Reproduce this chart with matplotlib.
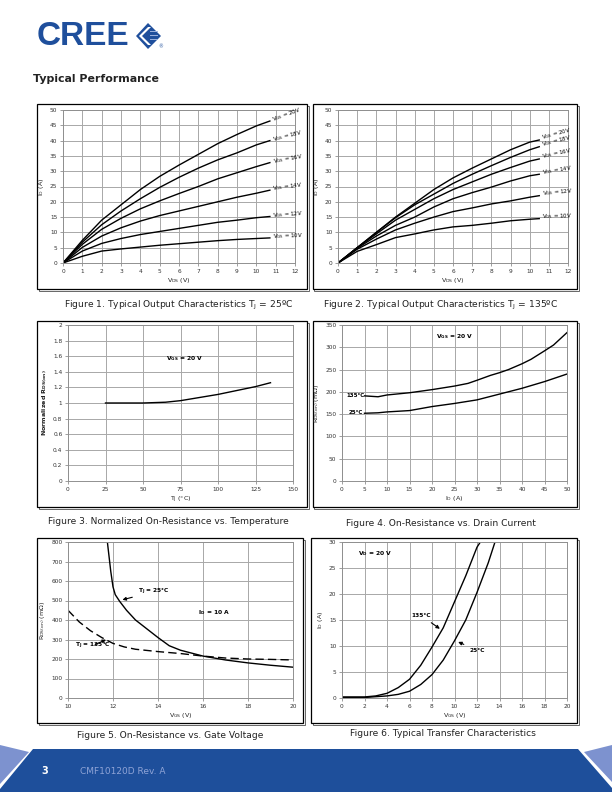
import matplotlib
matplotlib.use('Agg')
import matplotlib.pyplot as plt
from matplotlib.patches import Rectangle, Polygon
from matplotlib.lines import Line2D

# ---------------- data ----------------
# Figure 1: output characteristics, Tj = 25 C
f1_vds = [0, 1, 2, 3, 4, 5, 6, 7, 8, 9, 10, 10.7]
f1_20 = [0, 7.4, 14, 19, 24, 28.3, 32, 35.5, 39, 42, 44.8, 46.4]
f1_18 = [0, 6.8, 12.5, 17, 21, 24.7, 28, 31, 33.7, 36, 38.6, 40]
f1_16 = [0, 6.1, 11, 14.6, 17.7, 20.3, 22.7, 25, 27.5, 29.5, 31.5, 32.8]
f1_14 = [0, 5.1, 8.8, 11.5, 13.7, 15.5, 17, 18.5, 20, 21.5, 22.8, 23.8]
f1_12 = [0, 3.9, 6.4, 8, 9.3, 10.3, 11.3, 12.3, 13.3, 14, 14.8, 15.2]
f1_10 = [0, 2.2, 3.9, 4.6, 5.2, 5.8, 6.3, 6.8, 7.3, 7.7, 8.0, 8.2]
f1_series = [f1_20, f1_18, f1_16, f1_14, f1_12, f1_10]
f1_labels = ['20V', '18V', '16V', '14V', '12V', '10V']
f1_rot = [20, 14, 10, 7, 4, 2]

# Figure 2: output characteristics, Tj = 135 C
f2_vds = [0, 1, 2, 3, 4, 5, 6, 7, 8, 9, 10, 10.5]
f2_20 = [0, 5, 10, 15, 19.5, 24, 27.8, 31, 34, 37, 39.5, 40.2]
f2_18 = [0, 5, 10, 14.8, 19, 22.5, 26, 29, 31.8, 34.5, 37, 38]
f2_16 = [0, 5, 9.5, 14, 17.5, 21, 24, 26.5, 29, 31.2, 33.3, 34]
f2_14 = [0, 4.8, 8.8, 12.3, 15, 18.3, 21, 23, 24.8, 26.8, 28.5, 29]
f2_12 = [0, 4.5, 7.8, 10.8, 13, 15, 16.8, 18, 19.3, 20.3, 21.5, 22]
f2_10 = [0, 3.8, 6, 8.3, 9.5, 10.8, 11.8, 12.3, 13, 13.8, 14.3, 14.5]
f2_series = [f2_20, f2_18, f2_16, f2_14, f2_12, f2_10]
f2_rot = [15, 14, 12, 9, 5, 1]

# Figure 3: normalized on-resistance vs temperature
f3_t = [25, 50, 65, 75, 100, 125, 135]
f3_r = [1.0, 1.0, 1.01, 1.03, 1.11, 1.21, 1.26]

# Figure 4: on-resistance vs drain current
f4_id25 = [5, 8, 10, 15, 20, 25, 30, 35, 40, 45, 50]
f4_r25 = [152, 153, 155, 158, 167, 174, 182, 195, 208, 223, 240]
f4_id135 = [5, 8, 10, 15, 20, 25, 28, 30, 33, 35, 37, 40, 42, 45, 47, 50]
f4_r135 = [191, 189, 193, 198, 205, 213, 219, 226, 237, 243, 250, 263, 273, 292, 305, 333]

# Figure 5: on-resistance vs gate voltage
f5_vgs25 = [11.75, 11.9, 12.0, 12.1, 12.3, 12.6, 13, 13.5, 14, 14.5, 15, 16, 17, 18, 19, 20]
f5_r25 = [800, 650, 570, 530, 495, 450, 400, 355, 310, 268, 245, 215, 195, 180, 168, 158]
f5_vgs135 = [10, 10.5, 11, 11.5, 12, 12.5, 13, 14, 15, 16, 17, 18, 19, 20]
f5_r135 = [450, 390, 345, 310, 280, 262, 250, 238, 228, 215, 205, 200, 198, 195]

# Figure 6: transfer characteristics
f6_v135 = [0, 2, 3, 4, 5, 6, 7, 8, 9, 10, 11, 12, 12.3]
f6_i135 = [0.2, 0.2, 0.4, 0.9, 2.0, 3.6, 6.3, 9.8, 13.5, 18.5, 23.5, 29, 30]
f6_v25 = [0, 2, 4, 5, 6, 7, 8, 9, 10, 11, 12, 13, 13.6]
f6_i25 = [0.1, 0.1, 0.4, 0.7, 1.3, 2.6, 4.5, 7.3, 11, 15, 20.3, 26, 30]

captions = [
    'Figure 1. Typical Output Characteristics T$_\\mathregular{J}$ = 25ºC',
    'Figure 2. Typical Output Characteristics T$_\\mathregular{J}$ = 135ºC',
    'Figure 3. Normalized On-Resistance vs. Temperature',
    'Figure 4. On-Resistance vs. Drain Current',
    'Figure 5. On-Resistance vs. Gate Voltage',
    'Figure 6. Typical Transfer Characteristics',
]

# ---------------- figure ----------------
W, H = 612, 792
fig = plt.figure(figsize=(6.12, 7.92), dpi=100)
fig.patch.set_facecolor('white')

def ax_at(l, r, t, b):
    return fig.add_axes([l / W, 1 - b / H, (r - l) / W, (b - t) / H])

def frame(l, r, t, b):
    # thin shadow on right/bottom, then the black frame
    fig.patches.append(Rectangle(((l + 1.5) / W, 1 - (b + 1.5) / H), (r - l) / W, (b - t) / H,
                                 transform=fig.transFigure, fill=False,
                                 ec='#666666', lw=0.7, zorder=-2))
    fig.patches.append(Rectangle((l / W, 1 - b / H), (r - l) / W, (b - t) / H,
                                 transform=fig.transFigure, fc='white',
                                 ec='black', lw=0.9, zorder=-1))

def ftext(x, y, s, **kw):
    fig.text(x / W, 1 - y / H, s, **kw)

def fpoly(pts, **kw):
    fig.patches.append(Polygon([(x / W, 1 - y / H) for x, y in pts],
                               closed=True, transform=fig.transFigure, **kw))

TF = 4.2
LBL = dict(fontsize=4.6, color='#222222')

def style(ax, xlim, ylim, xt, yt):
    ax.set_xlim(xlim)
    ax.set_ylim(ylim)
    ax.set_xticks(xt)
    ax.set_yticks(yt)
    ax.grid(True, color='#a8a8a8', lw=0.7)
    ax.set_axisbelow(True)
    ax.tick_params(labelsize=TF, length=2, width=0.5, color='#777777',
                   labelcolor='#333333', pad=2)
    for s in ax.spines.values():
        s.set_color('#909090')
        s.set_linewidth(0.7)
    ax.xaxis.set_major_formatter(matplotlib.ticker.FormatStrFormatter('%g'))
    ax.yaxis.set_major_formatter(matplotlib.ticker.FormatStrFormatter('%g'))

# frames
frame(37, 307, 104, 289)
frame(313, 577, 104, 289)
frame(37, 307, 321, 507)
frame(313, 577, 321, 507)
frame(37, 303, 538, 723)
frame(311, 577, 538, 723)

# ---- Figure 1
ax1 = ax_at(63, 295, 110, 263)
style(ax1, (0, 12), (0, 50), range(0, 13), range(0, 51, 5))
for ys, lab, rot in zip(f1_series, f1_labels, f1_rot):
    ax1.plot(f1_vds, ys, color='black', lw=1.0)
    ax1.text(10.85, ys[-1] + 0.4, 'V$_\\mathregular{GS}$ = ' + lab, fontsize=4,
             rotation=rot, rotation_mode='anchor', ha='left', va='center')
ax1.set_xlabel('V$_\\mathregular{DS}$ (V)', labelpad=2, **LBL)
ax1.set_ylabel('I$_\\mathregular{D}$ (A)', labelpad=3, **LBL)

# ---- Figure 2
ax2 = ax_at(338, 568, 110, 263)
style(ax2, (0, 12), (0, 50), range(0, 13), range(0, 51, 5))
for ys, lab, rot in zip(f2_series, f1_labels, f2_rot):
    ax2.plot(f2_vds, ys, color='black', lw=1.0)
    ax2.text(10.65, ys[-1] + 0.6, 'V$_\\mathregular{GS}$ = ' + lab, fontsize=4,
             rotation=rot, rotation_mode='anchor', ha='left', va='center')
ax2.set_xlabel('V$_\\mathregular{DS}$ (V)', labelpad=2, **LBL)
ax2.set_ylabel('I$_\\mathregular{D}$ (A)', labelpad=3, **LBL)

# ---- Figure 3
ax3 = ax_at(68, 293, 325, 481)
style(ax3, (0, 150), (0, 2), range(0, 151, 25), [i * 0.2 for i in range(11)])
ax3.plot(f3_t, f3_r, color='black', lw=1.0)
ax3.text(65, 1.55, 'V$_\\mathregular{GS}$ = 20 V', fontsize=4.3, fontweight='bold')
ax3.set_xlabel('T$_\\mathregular{J}$ (°C)', labelpad=2, **LBL)
ax3.set_ylabel('Normalized R$_\\mathregular{DS(on)}$', labelpad=3, fontweight='bold',
               fontsize=4.6, color='#222222')

# ---- Figure 4
ax4 = ax_at(342, 567, 325, 481)
style(ax4, (0, 50), (0, 350), range(0, 51, 5), range(0, 351, 50))
ax4.plot(f4_id135, f4_r135, color='black', lw=1.0)
ax4.plot(f4_id25, f4_r25, color='black', lw=1.0)
ax4.text(1.0, 192, '135°C', fontsize=4, fontweight='bold', va='center')
ax4.text(1.5, 154, '25°C', fontsize=4, fontweight='bold', va='center')
ax4.text(21, 320, 'V$_\\mathregular{GS}$ = 20 V', fontsize=4.3, fontweight='bold')
ax4.set_xlabel('I$_\\mathregular{D}$ (A)', labelpad=2, **LBL)
ax4.set_ylabel('R$_\\mathregular{DS(on)}$ (mΩ)', labelpad=3, **LBL)

# ---- Figure 5
ax5 = ax_at(68, 293, 542, 698)
style(ax5, (10, 20), (0, 800), range(10, 21, 2), range(0, 801, 100))
ax5.plot(f5_vgs25, f5_r25, color='black', lw=1.0)
ax5.plot(f5_vgs135, f5_r135, color='black', lw=1.0, ls=(0, (6, 3)))
arw = dict(arrowstyle='-|>', color='black', lw=0.8, mutation_scale=5)
ax5.annotate('T$_\\mathregular{J}$ = 25°C', xy=(12.3, 500), xytext=(13.1, 545),
             fontsize=4.2, fontweight='bold', arrowprops=arw, va='center')
ax5.annotate('T$_\\mathregular{J}$ = 135°C', xy=(11.8, 305), xytext=(10.3, 268),
             fontsize=4.2, fontweight='bold', arrowprops=arw, va='center')
ax5.text(15.8, 440, 'I$_\\mathregular{D}$ = 10 A', fontsize=4.3, fontweight='bold',
         va='center')
ax5.set_xlabel('V$_\\mathregular{GS}$ (V)', labelpad=2, **LBL)
ax5.set_ylabel('R$_\\mathregular{DS(on)}$ (mΩ)', labelpad=3, **LBL)

# ---- Figure 6
ax6 = ax_at(342, 567, 542, 698)
style(ax6, (0, 20), (0, 30), range(0, 21, 2), range(0, 31, 5))
ax6.plot(f6_v135, f6_i135, color='black', lw=1.0)
ax6.plot(f6_v25, f6_i25, color='black', lw=1.0)
ax6.annotate('135°C', xy=(8.9, 13), xytext=(6.2, 15.8), fontsize=4.2,
             fontweight='bold', arrowprops=arw, va='center')
ax6.annotate('25°C', xy=(10.1, 11), xytext=(11.3, 9.2), fontsize=4.2,
             fontweight='bold', arrowprops=arw, va='center')
ax6.text(1.4, 27.8, 'V$_\\mathregular{D}$ = 20 V', fontsize=4.3, fontweight='bold',
         va='center')
ax6.set_xlabel('V$_\\mathregular{GS}$ (V)', labelpad=2, **LBL)
ax6.set_ylabel('I$_\\mathregular{D}$ (A)', labelpad=3, **LBL)

# captions
cap_pos = [(179, 305), (441, 305), (168, 522), (441, 523), (170, 735), (443, 733)]
for (x, y), c in zip(cap_pos, captions):
    ftext(x, y, c, fontsize=6.6, ha='center', va='center', color='#222222',
          family='DejaVu Sans')

# header
ftext(33, 79, 'Typical Performance', fontsize=7.9, fontweight='bold',
      va='center', color='#222222', family='DejaVu Sans')
blue = '#1f4f9c'
ftext(37, 36.5, 'CREE', fontsize=24, fontweight='bold', va='center', ha='left',
      color=blue, family='Liberation Sans')
fpoly([(136, 36), (148, 23), (161, 36), (148, 49)], fc=blue, ec='none')
fpoly([(139, 36), (148, 27), (151, 27), (142, 36), (151, 45), (148, 45)],
      fc='white', ec='none')
for yy in (31, 35, 39):
    fig.lines.append(Line2D([150 / W, 157 / W], [1 - yy / H, 1 - yy / H],
                            transform=fig.transFigure, color='#9db4e0', lw=0.7))
ftext(158, 47, '®', fontsize=3.5, color=blue, va='center')

# footer
fpoly([(33, 749), (578, 749), (612, 788), (612, 792), (0, 792), (0, 789)],
      fc='#1e4f9b', ec='none')
fpoly([(0, 745), (29, 752), (0, 784)], fc='#7d92cf', ec='none')
fpoly([(584, 752), (612, 745), (612, 782)], fc='#7d92cf', ec='none')
ftext(41, 771, '3', fontsize=7, fontweight='bold', color='white', va='center')
ftext(80, 771, 'CMF10120D Rev. A', fontsize=6.5, color='#8ea3d6', va='center',
      family='DejaVu Sans')

fig.savefig('out.png', dpi=100)
